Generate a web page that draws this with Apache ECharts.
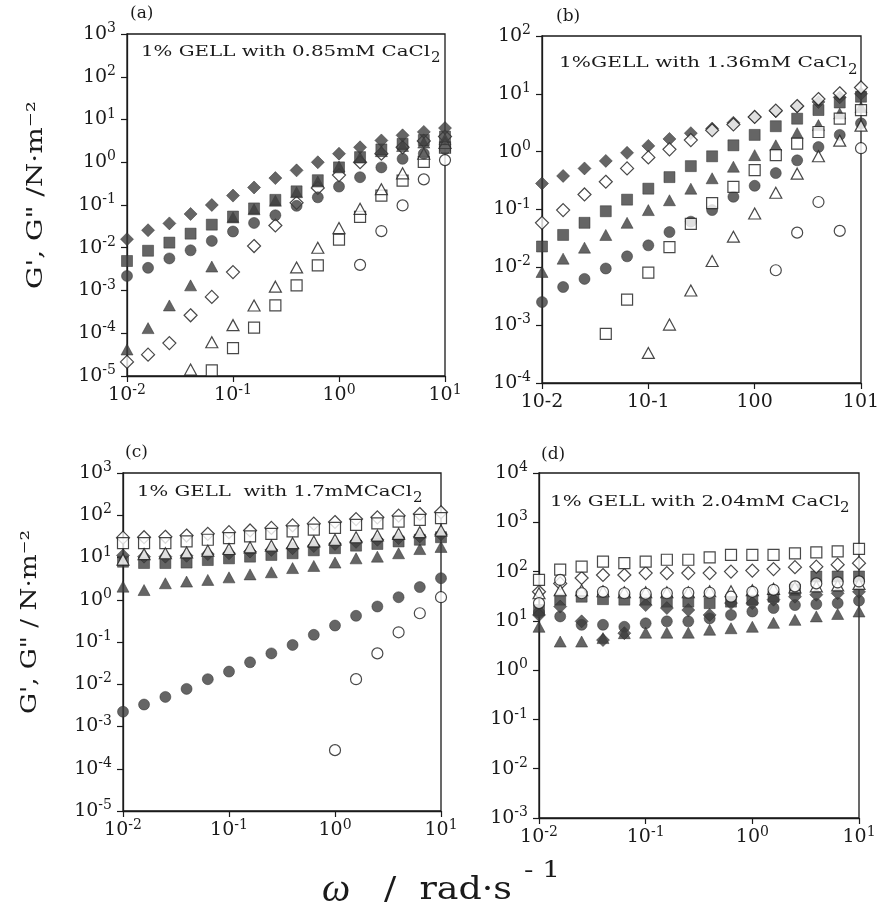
<!DOCTYPE html>
<html>
<head>
<meta charset="utf-8">
<script src="https://cdn.jsdelivr.net/npm/echarts@6/dist/echarts.min.js"></script>
<style>
html, body { margin: 0; background: #fff; }
#main { width: 887px; height: 914px; }
</style>
</head>
<body>
<div id="main"></div>
<script>
// angular frequency, rad/s (same 16 points in every panel)
const omega = [0.01, 0.0158, 0.0251, 0.0398, 0.0631, 0.1, 0.158, 0.251, 0.398, 0.631, 1, 1.58, 2.51, 3.98, 6.31, 10];

// G', G'', stored as log10 exponents (null = not plotted)
// (a) 0.85mM CaCl2
const aFilledDiamond  = [-1.80, -1.59, -1.43, -1.21, -1.00, -0.78, -0.59, -0.37, -0.19, 0.00, 0.20, 0.35, 0.51, 0.63, 0.71, 0.80];
const aOpenDiamond    = [-4.67, -4.50, -4.23, -3.58, -3.15, -2.57, -1.96, -1.48, -0.95, -0.60, -0.30, 0.00, 0.20, 0.35, 0.50, 0.60];
const aFilledSquare   = [-2.31, -2.07, -1.88, -1.67, -1.46, -1.27, -1.08, -0.88, -0.68, -0.42, -0.12, 0.12, 0.30, 0.43, 0.52, 0.60];
const aOpenSquare     = [null, null, null, null, -4.87, -4.35, -3.87, -3.35, -2.88, -2.41, -1.81, -1.28, -0.78, -0.43, 0.01, 0.34];
const aFilledTriangle = [-4.38, -3.88, -3.35, -2.88, -2.44, -1.29, -1.10, -0.90, -0.70, -0.45, -0.10, 0.11, 0.26, 0.38, 0.46, 0.54];
const aOpenTriangle   = [null, null, null, -4.85, -4.21, -3.81, -3.35, -2.91, -2.46, -2.00, -1.54, -1.09, -0.63, -0.26, 0.20, 0.45];
const aFilledCircle   = [-2.66, -2.47, -2.25, -2.06, -1.84, -1.62, -1.42, -1.24, -1.02, -0.82, -0.57, -0.35, -0.12, 0.08, 0.20, 0.31];
const aOpenCircle     = [null, null, null, null, null, null, null, null, null, null, null, -2.40, -1.61, -1.01, -0.40, 0.05];

// (b) 1.36mM CaCl2
const bFilledDiamond  = [-0.55, -0.42, -0.29, -0.16, -0.02, 0.10, 0.22, 0.32, 0.40, 0.50, 0.60, 0.70, 0.78, 0.86, 0.94, 1.00];
const bOpenDiamond    = [-1.23, -1.01, -0.74, -0.52, -0.29, -0.10, 0.04, 0.20, 0.37, 0.47, 0.60, 0.71, 0.79, 0.91, 1.01, 1.11];
const bFilledSquare   = [-1.64, -1.44, -1.23, -1.03, -0.83, -0.64, -0.44, -0.25, -0.08, 0.11, 0.29, 0.44, 0.57, 0.72, 0.85, 0.95];
const bOpenSquare     = [null, null, null, -3.15, -2.56, -2.09, -1.65, -1.25, -0.89, -0.61, -0.32, -0.06, 0.14, 0.34, 0.57, 0.72];
const bFilledTriangle = [-2.08, -1.85, -1.66, -1.44, -1.23, -1.01, -0.84, -0.64, -0.46, -0.26, -0.06, 0.11, 0.32, 0.46, 0.66, 0.77];
const bOpenTriangle   = [null, null, null, null, null, -3.48, -2.99, -2.40, -1.89, -1.47, -1.07, -0.71, -0.38, -0.08, 0.19, 0.45];
const bFilledCircle   = [-2.60, -2.34, -2.20, -2.02, -1.81, -1.62, -1.39, -1.21, -1.01, -0.78, -0.59, -0.37, -0.15, 0.08, 0.29, 0.49];
const bOpenCircle     = [null, null, null, null, null, null, null, null, null, null, null, -2.05, -1.40, -0.87, -1.37, 0.06];

// (c) 1.7mM CaCl2
const cFilledDiamond  = [1.05, 1.02, 1.02, 1.04, 1.08, 1.10, 1.14, 1.18, 1.22, 1.27, 1.32, 1.37, 1.42, 1.46, 1.50, 1.55];
const cOpenDiamond    = [1.47, 1.48, 1.49, 1.52, 1.56, 1.60, 1.64, 1.70, 1.76, 1.80, 1.84, 1.91, 1.95, 1.99, 2.03, 2.07];
const cFilledSquare   = [0.90, 0.87, 0.87, 0.88, 0.94, 0.98, 1.02, 1.06, 1.10, 1.17, 1.22, 1.28, 1.32, 1.38, 1.42, 1.48];
const cOpenSquare     = [1.34, 1.34, 1.34, 1.38, 1.42, 1.46, 1.50, 1.56, 1.62, 1.66, 1.70, 1.77, 1.81, 1.85, 1.89, 1.93];
const cFilledTriangle = [0.31, 0.23, 0.39, 0.43, 0.47, 0.53, 0.60, 0.65, 0.75, 0.80, 0.88, 0.98, 1.02, 1.10, 1.20, 1.25];
const cOpenTriangle   = [0.95, 1.08, 1.10, 1.12, 1.16, 1.20, 1.24, 1.28, 1.34, 1.38, 1.42, 1.48, 1.52, 1.56, 1.60, 1.64];
const cFilledCircle   = [-2.65, -2.48, -2.30, -2.11, -1.88, -1.70, -1.48, -1.27, -1.07, -0.83, -0.61, -0.38, -0.16, 0.06, 0.30, 0.51];
const cOpenCircle     = [null, null, null, null, null, null, null, null, null, null, -3.56, -1.88, -1.27, -0.77, -0.32, 0.06];

// (d) 2.04mM CaCl2
const dFilledDiamond  = [1.12, 1.29, 0.99, 0.61, 0.75, 1.32, 1.26, 1.22, 1.12, 1.36, 1.36, 1.43, 1.49, 1.53, 1.56, 1.59];
const dOpenDiamond    = [1.59, 1.76, 1.87, 1.93, 1.93, 1.97, 1.97, 1.97, 1.97, 2.00, 2.02, 2.05, 2.09, 2.10, 2.14, 2.17];
const dFilledSquare   = [1.22, 1.43, 1.49, 1.44, 1.43, 1.43, 1.39, 1.39, 1.36, 1.39, 1.43, 1.49, 1.63, 1.90, 1.90, 1.90];
const dOpenSquare     = [1.83, 2.04, 2.10, 2.20, 2.17, 2.20, 2.24, 2.24, 2.29, 2.34, 2.34, 2.34, 2.37, 2.39, 2.41, 2.46];
const dFilledTriangle = [0.88, 0.58, 0.58, 0.65, 0.75, 0.76, 0.76, 0.76, 0.82, 0.85, 0.88, 0.96, 1.02, 1.09, 1.14, 1.19];
const dOpenTriangle   = [1.56, 1.62, 1.62, 1.60, 1.58, 1.58, 1.58, 1.58, 1.60, 1.60, 1.62, 1.65, 1.68, 1.70, 1.72, 1.75];
const dFilledCircle   = [1.17, 1.09, 0.92, 0.92, 0.88, 0.95, 0.99, 0.99, 1.05, 1.12, 1.19, 1.26, 1.32, 1.34, 1.36, 1.41];
const dOpenCircle     = [1.36, 1.83, 1.56, 1.59, 1.56, 1.55, 1.56, 1.57, 1.57, 1.49, 1.59, 1.63, 1.70, 1.76, 1.78, 1.80];

const panelTitles = ['1% GELL with 0.85mM CaCl', '1%GELL with 1.36mM CaCl', '1% GELL  with 1.7mMCaCl', '1% GELL with 2.04mM CaCl'];
const panelLetters = ['(a)', '(b)', '(c)', '(d)'];

const FONT = '"DejaVu Serif", "Liberation Serif", serif';
const INK = '#1a1a1a';
const FILL = '#3e3e3e';

const panels = [
    { grid: { left: 127, top: 34, width: 318, height: 342 }, yMin: 1e-5, yMax: 1e3, plainX: false, openOnTop: false,
      data: [aFilledCircle, aFilledTriangle, aFilledSquare, aFilledDiamond, aOpenDiamond, aOpenSquare, aOpenTriangle, aOpenCircle] },
    { grid: { left: 542, top: 36, width: 319, height: 347 }, yMin: 1e-4, yMax: 1e2, plainX: true, openOnTop: true,
      data: [bFilledCircle, bFilledTriangle, bFilledSquare, bFilledDiamond, bOpenDiamond, bOpenSquare, bOpenTriangle, bOpenCircle] },
    { grid: { left: 123, top: 473, width: 318, height: 338 }, yMin: 1e-5, yMax: 1e3, plainX: false, openOnTop: true,
      data: [cFilledCircle, cFilledTriangle, cFilledSquare, cFilledDiamond, cOpenDiamond, cOpenSquare, cOpenTriangle, cOpenCircle] },
    { grid: { left: 539, top: 473, width: 320, height: 345 }, yMin: 1e-3, yMax: 1e4, plainX: false, openOnTop: true,
      data: [dFilledCircle, dFilledTriangle, dFilledSquare, dFilledDiamond, dOpenDiamond, dOpenSquare, dOpenTriangle, dOpenCircle] }
];

// marker styles, same order as panel.data
const markers = [
    { name: "G' ●", symbol: 'circle', size: 11, open: false },
    { name: "G' ▲", symbol: 'triangle', size: [12, 11], open: false },
    { name: "G' ■", symbol: 'rect', size: 11, open: false },
    { name: "G' ◆", symbol: 'diamond', size: [13, 13], open: false },
    { name: 'G" ◇', symbol: 'diamond', size: [13, 13], open: true },
    { name: 'G" □', symbol: 'rect', size: 11, open: true },
    { name: 'G" △', symbol: 'triangle', size: [12, 11], open: true },
    { name: 'G" ○', symbol: 'circle', size: 11, open: true }
];

function expOf(v) { return Math.round(Math.log10(v)); }
// 10 with a raised exponent, as rich text
function supLabel(v) { return '{b|10}{s|' + expOf(v) + '}'; }
function plainLabel(v) { return '10' + expOf(v); }
const labelRich = {
    b: { fontFamily: FONT, fontSize: 19, color: INK },
    s: { fontFamily: FONT, fontSize: 14, color: INK, padding: [0, 0, 11, 0] }
};

function toPoints(exps) {
    const pts = [];
    exps.forEach(function(e, i) {
        if (e !== null) pts.push([omega[i], Math.pow(10, e)]);
    });
    return pts;
}

// horizontal stretch so a string fills the width it has in the scan
const measureCtx = document.createElement('canvas').getContext('2d');
function stretch(text, font, width) {
    measureCtx.font = font;
    return width / measureCtx.measureText(text).width;
}

const axisCommon = {
    type: 'log',
    logBase: 10,
    splitLine: { show: false },
    minorTick: { show: false },
    axisLine: { show: true, lineStyle: { color: INK, width: 1.3 } },
    axisTick: { show: true, inside: false, length: 6, lineStyle: { color: INK, width: 1.2 } }
};

const grids = [], xAxes = [], yAxes = [], series = [];
panels.forEach(function(p, idx) {
    grids.push(Object.assign({ show: true, borderColor: INK, borderWidth: 1.3, backgroundColor: 'transparent' }, p.grid));
    xAxes.push(Object.assign({}, axisCommon, {
        gridIndex: idx, min: 0.01, max: 10, interval: 1, splitNumber: 3,
        axisLabel: p.plainX
            ? { formatter: plainLabel, fontFamily: FONT, fontSize: 19, color: INK, margin: 10 }
            : { formatter: supLabel, rich: labelRich, margin: 7 }
    }));
    yAxes.push(Object.assign({}, axisCommon, {
        gridIndex: idx, min: p.yMin, max: p.yMax, interval: 1, splitNumber: 10,
        axisLabel: { formatter: supLabel, rich: labelRich, margin: 11 }
    }));
    p.data.forEach(function(exps, k) {
        const m = markers[k];
        const onTop = m.open === p.openOnTop;
        series.push({
            name: m.name,
            type: 'scatter',
            xAxisIndex: idx,
            yAxisIndex: idx,
            symbol: m.symbol,
            symbolSize: m.size,
            z: onTop ? 3 : 2,
            itemStyle: m.open
                ? { color: '#ffffff', borderColor: INK, borderWidth: 1.2 }
                : { color: FILL, borderColor: '#2a2a2a', borderWidth: 0.6 },
            data: toPoints(exps)
        });
    });
});

// text placed as in the scan
const titleSpots = [
    { x: 141, y: 52, w: 289, sx: 431, sy: 58 },
    { x: 559, y: 63, w: 288, sx: 848, sy: 70 },
    { x: 137, y: 492, w: 275, sx: 413, sy: 498 },
    { x: 550, y: 502, w: 290, sx: 840, sy: 508 }
];
const letterSpots = [[130, 14], [556, 17], [125, 453], [541, 455]];

const graphics = [];
panelTitles.forEach(function(t, i) {
    const s = titleSpots[i];
    const font = '15px ' + FONT;
    graphics.push({
        type: 'text', x: s.x, y: s.y, scaleX: stretch(t, font, s.w), z: 10,
        style: { text: t, font: font, fill: INK, verticalAlign: 'middle' }
    });
    graphics.push({
        type: 'text', x: s.sx, y: s.sy, z: 10,
        style: { text: '2', font: '15px ' + FONT, fill: INK, verticalAlign: 'middle' }
    });
    graphics.push({
        type: 'text', x: letterSpots[i][0], y: letterSpots[i][1], z: 10,
        style: { text: panelLetters[i], font: '17px ' + FONT, fill: INK, verticalAlign: 'middle' }
    });
});

const yTitleTop = 'G\', G" /N·m⁻²';
const yTitleBottom = 'G\', G" / N·m⁻²';
const yFont = '22px ' + FONT;
graphics.push({
    type: 'text', x: 36, y: 195, rotation: Math.PI / 2, scaleX: stretch(yTitleTop, yFont, 188),
    style: { text: yTitleTop, font: yFont, fill: INK, align: 'center', verticalAlign: 'middle' }
});
graphics.push({
    type: 'text', x: 30, y: 622, rotation: Math.PI / 2, scaleX: stretch(yTitleBottom, yFont, 184),
    style: { text: yTitleBottom, font: yFont, fill: INK, align: 'center', verticalAlign: 'middle' }
});

// omega / rad s^-1
const xTitleFont = '32px ' + FONT;
graphics.push({
    type: 'text', x: 322, y: 890,
    style: { text: 'ω', font: 'italic 40px "Liberation Serif", serif', fill: INK, verticalAlign: 'middle' }
});
graphics.push({
    type: 'text', x: 384, y: 891, scaleX: stretch('/  rad·s', xTitleFont, 128),
    style: { text: '/  rad·s', font: xTitleFont, fill: INK, verticalAlign: 'middle' }
});
graphics.push({
    type: 'text', x: 524, y: 871, scaleX: stretch('- 1', '22px ' + FONT, 36),
    style: { text: '- 1', font: '22px ' + FONT, fill: INK, verticalAlign: 'middle' }
});

const chart = echarts.init(document.getElementById('main'));
chart.setOption({
    backgroundColor: '#ffffff',
    animation: false,
    grid: grids,
    xAxis: xAxes,
    yAxis: yAxes,
    series: series,
    graphic: graphics
});
</script>
</body>
</html>
